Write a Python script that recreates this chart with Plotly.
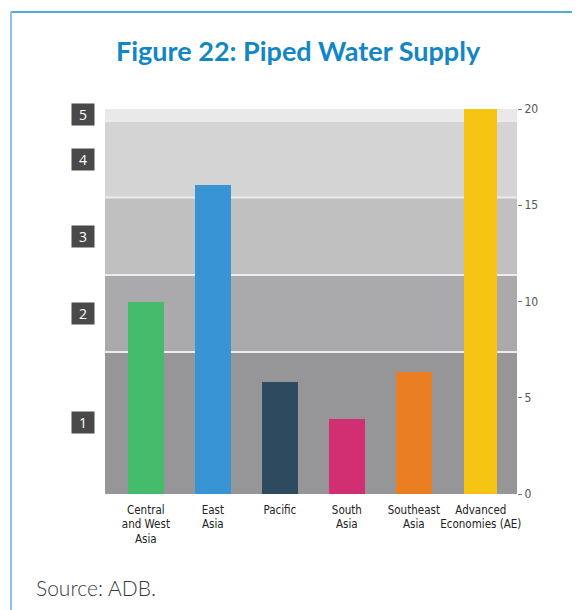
import plotly.graph_objects as go

# ---- data ----
categories = ["Central<br>and West<br>Asia", "East<br>Asia", "Pacific", "South<br>Asia",
              "Southeast<br>Asia", "Advanced<br>Economies (AE)"]
values = [10.0, 16.05, 5.82, 3.9, 6.34, 20.0]
bar_colors = ["#45bc6b", "#3994d3", "#2e4a5f", "#d22f72", "#e97e23", "#f6c412"]
bar_widths = [0.54, 0.54, 0.54, 0.54, 0.54, 0.49]

band_edges = [0, 7.38, 11.38, 15.4, 19.38, 20]
band_labels = ["1", "2", "3", "4", "5"]
band_colors = ["#969698", "#aaaaac", "#c0c0c1", "#d4d4d4", "#e9e9e9"]

y_ticks = [0, 5, 10, 15, 20]

# page body offset (8px) compensation
OFF = 8
W, H = 580, 610
L, R, T, B = 105 - OFF, 63 + OFF, 109 - OFF, 116 + OFF
pw, ph = W - L - R, H - T - B

def px_x(p):
    return (p - OFF - L) / pw

def px_y(p):
    return (H - B - (p - OFF)) / ph

xs = list(range(len(categories)))

fig = go.Figure()
fig.add_trace(go.Bar(
    x=xs, y=values, width=bar_widths,
    marker=dict(color=bar_colors, line=dict(width=0)),
    hoverinfo="skip", showlegend=False,
))

shapes = []
for i in range(len(band_labels)):
    shapes.append(dict(type="rect", xref="paper", yref="y", x0=0, x1=1,
                       y0=band_edges[i], y1=band_edges[i + 1],
                       fillcolor=band_colors[i], line=dict(width=0), layer="below"))
for e in band_edges[1:-1]:
    shapes.append(dict(type="line", xref="paper", yref="y", x0=0, x1=1, y0=e, y1=e,
                       line=dict(color="#ececec", width=2), layer="below"))
# frame
shapes.append(dict(type="line", xref="paper", yref="paper",
                   x0=px_x(11), x1=px_x(600), y0=px_y(12), y1=px_y(12),
                   line=dict(color="#1a8fcb", width=1.5)))
shapes.append(dict(type="line", xref="paper", yref="paper",
                   x0=px_x(11), x1=px_x(11), y0=px_y(12), y1=px_y(640),
                   line=dict(color="#86c7e6", width=2)))

annotations = []
for i, lab in enumerate(band_labels):
    annotations.append(dict(
        x=px_x(83), xref="paper", y=(band_edges[i] + band_edges[i + 1]) / 2, yref="y",
        text=lab, showarrow=False, bgcolor="#4a4949", width=20, height=19,
        font=dict(family="Open Sans, sans-serif", size=14, color="white"),
        xanchor="center", yanchor="middle", align="center", valign="middle"))

annotations.append(dict(
    x=px_x(298), xref="paper", y=px_y(50), yref="paper",
    text="<b>Figure 22: Piped Water Supply</b>", showarrow=False,
    font=dict(family="Lato, sans-serif", size=27, color="#1386c4"),
    xanchor="center", yanchor="middle"))
annotations.append(dict(
    x=px_x(34), xref="paper", y=px_y(587), yref="paper",
    text="Source: ADB.", showarrow=False,
    font=dict(family="Lato, sans-serif", size=21, color="#3a3a3a", weight=300),
    xanchor="left", yanchor="middle"))

fig.update_layout(
    width=W, height=H,
    margin=dict(l=L, r=R, t=T, b=B, autoexpand=False),
    paper_bgcolor="white", plot_bgcolor="white",
    shapes=shapes, annotations=annotations,
    bargap=0,
    xaxis=dict(range=[-0.61, 5.54], tickvals=xs, ticktext=categories,
               showgrid=False, zeroline=False, showline=False, ticks="",
               ticklabelstandoff=7, tickangle=0,
               tickfont=dict(family="Liberation Sans Narrow, DejaVu Sans Condensed, Roboto, sans-serif",
                             size=11.5, color="#222")),
    yaxis=dict(range=[0, 20], side="right", tickvals=y_ticks,
               showgrid=False, zeroline=False, showline=False,
               ticks="outside", ticklen=4, tickcolor="#777", tickwidth=1,
               tickfont=dict(family="Liberation Sans Narrow, DejaVu Sans Condensed, Roboto, sans-serif",
                             size=12, color="#555")),
)

fig.write_html("out.html")
